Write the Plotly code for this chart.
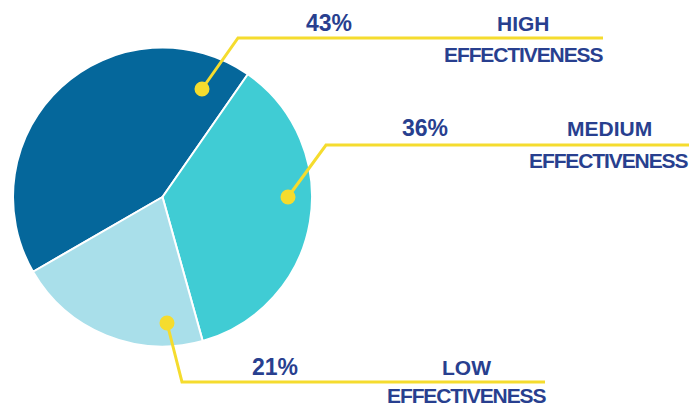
import plotly.graph_objects as go

# ---- data ----
categories = ["HIGH", "MEDIUM", "LOW"]
values = [43, 36, 21]
pct_labels = ["43%", "36%", "21%"]
sub_label = "EFFECTIVENESS"

# ---- style / layout constants ----
W, H = 697, 407
colors = ["#05679b", "#40ccd4", "#a9dfea"]
yellow = "#f5dc2e"
navy = "#283f8f"
pie_box = (13, 47, 312, 347)  # left, top, right, bottom in pixels

# leader geometry (pixels): dot, elbow, line end
leaders = [
    dict(dot=(202, 89), elbow=(238, 38), end=(603, 38)),
    dict(dot=(288, 197), elbow=(326, 145), end=(689, 145)),
    dict(dot=(167, 323), elbow=(182, 382), end=(545, 382)),
]
# text positions (pixels): pct center, name center, effectiveness center
text_pos = [
    dict(pct=(329, 23), name=(523, 23), sub=(523, 54)),
    dict(pct=(425, 128), name=(609, 128), sub=(608, 160)),
    dict(pct=(275, 367), name=(466, 367), sub=(466, 395)),
]

fig = go.Figure()
fig.add_trace(go.Pie(
    labels=categories, values=values, sort=False, direction="clockwise",
    rotation=-120, textinfo="none", hoverinfo="label+percent",
    marker=dict(colors=colors, line=dict(color="white", width=2)),
    domain=dict(x=[pie_box[0] / W, pie_box[2] / W],
                y=[1 - pie_box[3] / H, 1 - pie_box[1] / H]),
    showlegend=False,
))
fig.add_trace(go.Scatter(x=[], y=[], showlegend=False, hoverinfo="skip"))

shapes = []
for ld in leaders:
    (dx, dy), (ex, ey), (fx, fy) = ld["dot"], ld["elbow"], ld["end"]
    shapes.append(dict(type="path", xref="x", yref="y", layer="above",
                       path=f"M {dx},{dy} L {ex},{ey} L {fx},{fy}",
                       line=dict(color=yellow, width=3)))
    r = 7.5
    shapes.append(dict(type="circle", xref="x", yref="y", layer="above",
                       x0=dx - r, x1=dx + r, y0=dy - r, y1=dy + r,
                       fillcolor=yellow, line=dict(width=0)))

annotations = []
for i, tp in enumerate(text_pos):
    for key, txt, size, ls in [
        ("pct", pct_labels[i], 23, 0),
        ("name", categories[i], 21, 0),
        ("sub", sub_label, 21, -1.1),
    ]:
        x, y = tp[key]
        t = f"<b>{txt}</b>"
        if ls:
            t = f'<span style="letter-spacing:{ls}px"><b>{txt}</b></span>'
        annotations.append(dict(
            x=x, y=y, xref="x", yref="y", text=t,
            showarrow=False, xanchor="center", yanchor="middle",
            font=dict(family="Liberation Sans", size=size, color=navy)))

fig.update_layout(
    width=W, height=H, margin=dict(l=0, r=0, t=0, b=0),
    paper_bgcolor="white", plot_bgcolor="rgba(0,0,0,0)",
    xaxis=dict(range=[0, W], visible=False, fixedrange=True, domain=[0, 1]),
    yaxis=dict(range=[H, 0], visible=False, fixedrange=True, domain=[0, 1]),
    shapes=shapes, annotations=annotations,
)
fig.write_html("out.html", config={"displayModeBar": False},
               post_script="document.body.style.margin='0';")
